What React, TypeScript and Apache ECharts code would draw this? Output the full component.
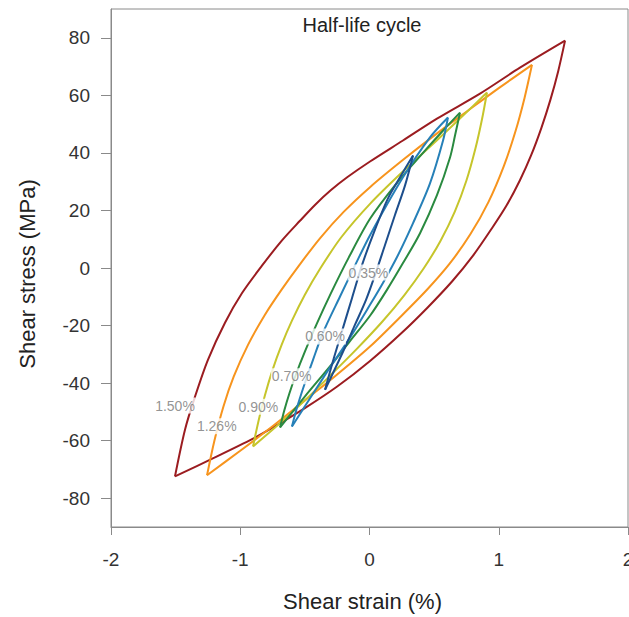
import React, { useEffect, useRef } from "react";
import * as echarts from "echarts";

// Strain amplitude of each loop and its colour
const amplitudes = ["1.50%", "1.26%", "0.90%", "0.70%", "0.60%", "0.35%"];
const loopColors = ["#9B1C20", "#F7941D", "#C6C52B", "#2A8A40", "#2680B8", "#1D4E8C"];

// 1.50 % loop
const up150Strain = [-1.505, -1.427, -1.35, -1.25, -1.118, -0.986, -0.832, -0.677, -0.538, -0.42, -0.3, -0.17, 0.004, 0.259, 0.522, 0.855, 1.164, 1.513];
const up150Stress = [-72.4, -56.1, -44.7, -31.9, -19.0, -8.7, 0.8, 9.6, 16.4, 22.0, 27.0, 31.6, 37.0, 44.3, 51.9, 60.6, 69.6, 79.0];
const dn150Strain = [1.513, 1.46, 1.4, 1.33, 1.25, 1.164, 1.06, 0.95, 0.801, 0.64, 0.45, 0.25, 0.004, -0.25, -0.5, -0.75, -0.901, -1.2, -1.505];
const dn150Stress = [79.0, 68.4, 58.5, 48.7, 39.1, 30.5, 21.7, 14.0, 4.3, -4.6, -13.7, -22.5, -32.3, -41.2, -48.7, -55.5, -59.3, -65.9, -72.4];

// 1.26 % loop
const up126Strain = [-1.257, -1.2, -1.13, -1.05, -0.94, -0.81, -0.68, -0.54, -0.38, -0.2, 0.004, 0.26, 0.52, 0.75, 1.0, 1.257];
const up126Stress = [-72.0, -60.0, -48.1, -37.7, -26.7, -16.3, -7.5, 1.2, 10.5, 19.5, 28.1, 37.6, 46.7, 54.3, 62.5, 70.6];
const dn126Strain = [1.257, 1.2, 1.13, 1.04, 0.92, 0.78, 0.62, 0.45, 0.25, 0.004, -0.25, -0.5, -0.75, -1.0, -1.257];
const dn126Stress = [70.6, 59.2, 47.6, 35.5, 22.9, 11.7, 1.5, -7.3, -16.5, -27.3, -37.0, -46.0, -55.0, -63.5, -72.0];

// 0.90 % loop
const up090Strain = [-0.901, -0.86, -0.81, -0.75, -0.68, -0.6, -0.5, -0.38, -0.22, 0.004, 0.26, 0.52, 0.72, 0.909];
const up090Stress = [-62.0, -53.4, -44.4, -35.4, -26.7, -18.3, -9.3, -0.1, 10.6, 22.3, 33.6, 44.3, 52.8, 61.0];
const dn090Strain = [0.909, 0.87, 0.82, 0.75, 0.66, 0.55, 0.42, 0.27, 0.1, -0.1, -0.3, -0.5, -0.7, -0.901];
const dn090Stress = [61.0, 51.6, 41.6, 30.4, 19.6, 9.5, -0.1, -9.4, -18.6, -28.2, -37.2, -46.0, -54.2, -62.0];

// 0.70 % loop
const up070Strain = [-0.692, -0.66, -0.62, -0.57, -0.5, -0.41, -0.3, -0.16, 0.004, 0.2, 0.4, 0.58, 0.7];
const up070Stress = [-55.4, -49.6, -43.6, -37.1, -29.1, -19.6, -8.9, 3.7, 17.1, 28.9, 39.3, 48.3, 54.0];
const dn070Strain = [0.7, 0.662, 0.623, 0.522, 0.391, 0.259, 0.135, 0.004, -0.151, -0.306, -0.499, -0.692];
const dn070Stress = [54.0, 46.1, 38.4, 25.3, 12.1, 1.7, -7.6, -16.6, -25.4, -34.2, -44.6, -55.4];

// 0.60 % loop
const up060Strain = [-0.6, -0.561, -0.507, -0.437, -0.36, -0.228, -0.112, 0.004, 0.259, 0.468, 0.607];
const up060Stress = [-55.1, -48.5, -40.9, -31.9, -22.5, -9.9, 0.9, 11.4, 31.5, 45.4, 52.3];
const dn060Strain = [0.607, 0.569, 0.468, 0.337, 0.213, 0.104, 0.004, -0.151, -0.306, -0.445, -0.6];
const dn060Stress = [52.3, 44.3, 29.4, 15.6, 3.8, -5.2, -12.8, -24.2, -34.6, -44.2, -55.1];

// 0.35 % loop
const up035Strain = [-0.344, -0.275, -0.205, -0.135, -0.058, 0.035, 0.143, 0.236, 0.337];
const up035Stress = [-42.3, -31.2, -20.8, -10.4, 1.0, 12.5, 24.2, 31.5, 39.1];
const dn035Strain = [0.337, 0.275, 0.197, 0.12, 0.043, -0.027, -0.112, -0.205, -0.344];
const dn035Stress = [39.1, 28.7, 18.4, 8.0, -2.4, -11.1, -19.7, -29.1, -42.3];

// Where each amplitude label sits on its loop (strain %, stress MPa)
const labelStrain = [-1.505, -1.182, -0.86, -0.602, -0.344, -0.009];
const labelStress = [-47.8, -55.0, -48.2, -37.6, -23.8, -1.6];

const xTicks = [-2, -1, 0, 1, 2];
const yTicks = [-80, -60, -40, -20, 0, 20, 40, 60, 80];

const FONT = "'Liberation Sans', Arial, Helvetica, sans-serif";

function pairs(xs: number[], ys: number[]) {
  return xs.map((x, i) => [x, ys[i]]);
}

export default function App() {
  const ref = useRef<HTMLDivElement>(null);

  useEffect(() => {
    if (!ref.current) return;
    const chart = echarts.init(ref.current, null, { renderer: "svg" });

    const loops = [
      [up150Strain, up150Stress, dn150Strain, dn150Stress],
      [up126Strain, up126Stress, dn126Strain, dn126Stress],
      [up090Strain, up090Stress, dn090Strain, dn090Stress],
      [up070Strain, up070Stress, dn070Strain, dn070Stress],
      [up060Strain, up060Stress, dn060Strain, dn060Stress],
      [up035Strain, up035Stress, dn035Strain, dn035Stress],
    ];

    const series: any[] = [];
    loops.forEach((l, i) => {
      [0, 2].forEach((k) => {
        series.push({
          type: "line",
          name: amplitudes[i],
          data: pairs(l[k], l[k + 1]),
          showSymbol: false,
          smooth: 0.3,
          lineStyle: { color: loopColors[i], width: 2 },
          z: 2,
          silent: true,
        });
      });
    });

    series.push({
      type: "scatter",
      data: amplitudes.map((a, i) => ({ name: a, value: [labelStrain[i], labelStress[i]] })),
      symbolSize: 1,
      itemStyle: { color: "rgba(0,0,0,0)" },
      z: 10,
      silent: true,
      label: {
        show: true,
        position: "inside",
        formatter: "{b}",
        color: "#777",
        fontSize: 14,
        fontFamily: FONT,
        backgroundColor: "#ffffff",
        padding: [1, 1],
      },
    });

    chart.setOption({
      animation: false,
      grid: {
        left: 111,
        top: 9,
        right: 12,
        bottom: 89,
        show: true,
        borderColor: "#8a8a8a",
        borderWidth: 1,
      },
      graphic: [
        {
          type: "text",
          x: 362,
          y: 25,
          style: {
            text: "Half-life cycle",
            fill: "#222",
            fontSize: 20,
            fontFamily: FONT,
            textAlign: "center",
            textVerticalAlign: "middle",
          },
        },
      ],
      xAxis: {
        type: "value",
        min: xTicks[0],
        max: xTicks[xTicks.length - 1],
        interval: 1,
        name: "Shear strain (%)",
        nameLocation: "middle",
        nameGap: 63,
        nameTextStyle: { fontSize: 22, color: "#222", fontFamily: FONT, padding: [0, 14, 0, 0] },
        axisLine: { show: true, onZero: false, lineStyle: { color: "#8a8a8a", width: 1 } },
        axisTick: { show: true, length: 8, lineStyle: { color: "#8a8a8a" } },
        axisLabel: { fontSize: 19, color: "#333", margin: 23, fontFamily: FONT, showMaxLabel: true, showMinLabel: true },
        splitLine: { show: false },
      },
      yAxis: {
        type: "value",
        min: -90,
        max: 90,
        name: "Shear stress (MPa)",
        nameLocation: "middle",
        nameGap: 73,
        nameRotate: 90,
        nameTextStyle: { fontSize: 22, color: "#222", fontFamily: FONT, padding: [0, 12, 0, 0] },
        axisLine: { show: true, onZero: false, lineStyle: { color: "#8a8a8a", width: 1 } },
        axisTick: { show: true, length: 10, customValues: yTicks, lineStyle: { color: "#8a8a8a" } },
        axisLabel: { fontSize: 19, color: "#333", margin: 21, fontFamily: FONT, customValues: yTicks },
        splitLine: { show: false },
      },
      series,
    });

    return () => chart.dispose();
  }, []);

  return (
    <div style={{ position: "absolute", left: 0, top: 0, width: 629, height: 617, overflow: "hidden", background: "#fff" }}>
      <div ref={ref} style={{ width: 640, height: 617 }} />
    </div>
  );
}
